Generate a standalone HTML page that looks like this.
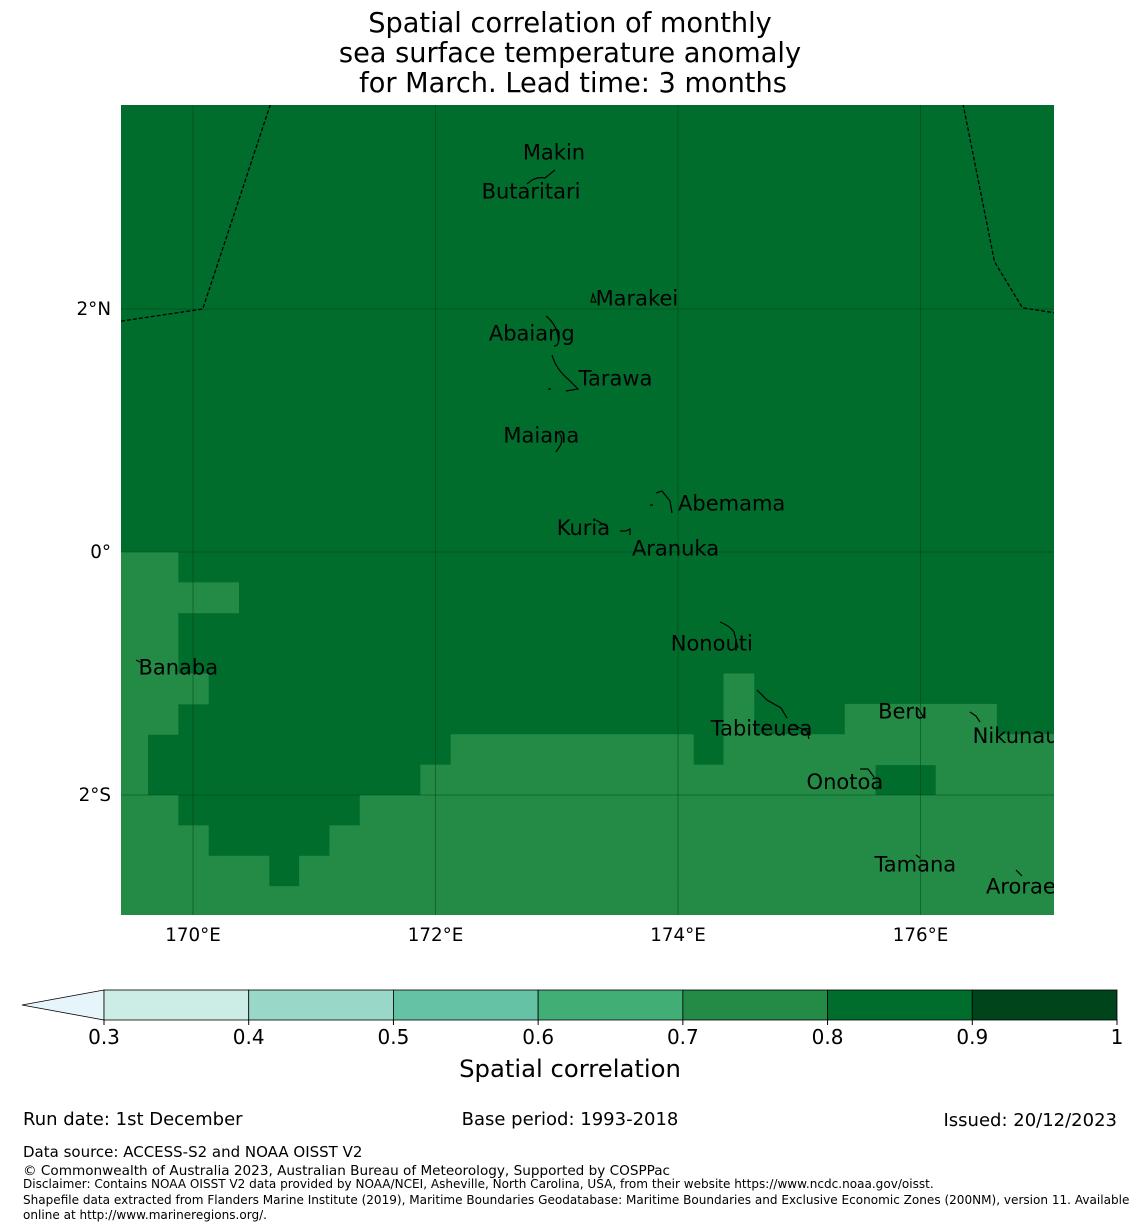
<!DOCTYPE html>
<html><head><meta charset="utf-8"><style>
body{margin:0;background:#fff;}
svg{display:block;font-family:"DejaVu Sans","Liberation Sans",sans-serif;}
</style></head><body>
<svg id="chart" width="1140" height="1230" viewBox="0 0 1140 1230" xmlns="http://www.w3.org/2000/svg">
<g font-size="27.2" text-anchor="middle" fill="#000">
<text x="570" y="32">Spatial correlation of monthly</text>
<text x="570" y="62">sea surface temperature anomaly</text>
<text x="573" y="92">for March. Lead time: 3 months</text>
</g>
<defs><clipPath id="mapclip"><rect x="121" y="105" width="933" height="810"/></clipPath></defs>
<g id="map" clip-path="url(#mapclip)"></g>
<g id="axes" font-size="18.3" fill="#000"></g>
<g id="cbar"></g>
<text x="570" y="1077" font-size="24.3" text-anchor="middle">Spatial correlation</text>
<g font-size="18" fill="#000">
<text x="23" y="1125">Run date: 1st December</text>
<text x="570" y="1125" text-anchor="middle">Base period: 1993-2018</text>
<text x="1117" y="1126" text-anchor="end">Issued: 20/12/2023</text>
<text x="23" y="1157" font-size="15">Data source: ACCESS-S2 and NOAA OISST V2</text>
<text x="23" y="1175" font-size="13.6">© Commonwealth of Australia 2023, Australian Bureau of Meteorology, Supported by COSPPac</text>
<text x="23" y="1188" font-size="12.05">Disclaimer: Contains NOAA OISST V2 data provided by NOAA/NCEI, Asheville, North Carolina, USA, from their website https://www.ncdc.noaa.gov/oisst.</text>
<text x="23" y="1204" font-size="12.05">Shapefile data extracted from Flanders Marine Institute (2019), Maritime Boundaries Geodatabase: Maritime Boundaries and Exclusive Economic Zones (200NM), version 11. Available</text>
<text x="23" y="1219" font-size="12.05">online at http://www.marineregions.org/.</text>
</g>
</svg>
<script>
// colorbar data
const levels=[0.3,0.4,0.5,0.6,0.7,0.8,0.9,1];
const levelColors=["#ccece6","#99d8c9","#66c2a4","#41ae76","#238b45","#006d2c","#00441b"];
const tickLabels=["0.3","0.4","0.5","0.6","0.7","0.8","0.9","1"];
// background correlation class for whole domain
const baseValue=0.85;
// cells with correlation 0.7-0.8: [lonWest, lonEast, latNorth, latSouth]
const cellLonW=[169.375,169.375,169.375,169.375,174.375,169.375,174.375,175.375,169.375,172.125,174.375,169.375,171.875,176.125,169.375,171.375,169.375,171.125,169.375,170.875,169.375];
const cellLonE=[169.875,170.375,169.875,170.125,174.625,169.875,174.625,176.625,169.625,174.125,177.2,169.625,175.625,177.2,169.875,177.2,170.125,177.2,170.625,177.2,177.2];
const cellLatN=[0,-0.25,-0.5,-1.0,-1.0,-1.25,-1.25,-1.25,-1.5,-1.5,-1.5,-1.75,-1.75,-1.75,-2.0,-2.0,-2.25,-2.25,-2.5,-2.5,-2.75];
const cellLatS=[-0.25,-0.5,-1.0,-1.25,-1.25,-1.5,-1.5,-1.5,-1.75,-1.75,-1.75,-2.0,-2.0,-2.0,-2.25,-2.25,-2.5,-2.5,-2.75,-2.75,-3.0];
const cellValue=0.75;
// islands
const islandNames=["Makin","Butaritari","Marakei","Abaiang","Tarawa","Maiana","Abemama","Kuria","Aranuka","Nonouti","Banaba","Tabiteuea","Beru","Nikunau","Onotoa","Tamana","Arorae"];
const islandLon=[172.72,172.38,173.32,172.44,173.18,172.56,174.0,173.0,173.62,173.94,169.55,174.27,175.65,176.43,175.06,175.62,176.54];
const islandLat=[3.23,2.91,2.03,1.74,1.37,0.9,0.34,0.14,-0.03,-0.81,-1.01,-1.51,-1.37,-1.57,-1.95,-2.63,-2.81];
const lonTicks=[170,172,174,176];
const latTicks=[2,0,-2];
const latTickLabels=["2°N","0°","2°S"];
// EEZ boundary vertices
const eezWLon=[169.406,170.08,170.64];
const eezWLat=[1.90,2.0,3.69];
const eezELon=[176.35,176.61,176.84,177.1];
const eezELat=[3.69,2.39,2.01,1.97];

const NS="http://www.w3.org/2000/svg";
const X=lon=>121+(lon-169.406)*121.25;
const Y=lat=>552-lat*121.5;
function colorFor(v){for(let i=0;i<levelColors.length;i++){if(v>=levels[i]&&v<levels[i+1])return levelColors[i];}return levelColors[levelColors.length-1];}
function mk(tag,attrs,parent){const e=document.createElementNS(NS,tag);for(const k in attrs)e.setAttribute(k,attrs[k]);parent.appendChild(e);return e;}

const map=document.getElementById('map');
const bg=mk('rect',{x:121,y:105,width:933,height:810,fill:colorFor(baseValue)},map);


for(let i=0;i<cellLonW.length;i++){
 const r=mk('rect',{x:X(cellLonW[i]),y:Y(cellLatN[i]),width:X(cellLonE[i])-X(cellLonW[i])+0.5,height:Y(cellLatS[i])-Y(cellLatN[i])+0.5,fill:colorFor(cellValue)},map);
 
 
}
lonTicks.forEach(l=>{const g=mk('line',{x1:X(l),x2:X(l),y1:105,y2:915,stroke:"#003d18","stroke-width":0.8,"stroke-opacity":0.6},map);
 
 });
latTicks.forEach(l=>{const g=mk('line',{x1:121,x2:1054,y1:Y(l),y2:Y(l),stroke:"#003d18","stroke-width":0.8,"stroke-opacity":0.6},map);
 
 });
const pw=eezWLon.map((l,i)=>X(l)+","+Y(eezWLat[i])).join(" ");
const e1=mk('polyline',{points:pw,fill:"none",stroke:"#000","stroke-width":1.3,"stroke-dasharray":"4,2"},map);


const pe=eezELon.map((l,i)=>X(l)+","+Y(eezELat[i])).join(" ");
const e2=mk('polyline',{points:pe,fill:"none",stroke:"#000","stroke-width":1.3,"stroke-dasharray":"4,2"},map);


const outlines=["M527,184 q8,-8 18,-6 l10,-8","M591,302 l2,-8 l3,8 z","M546,316 q10,8 12,20 q2,10 -4,10","M552,355 q4,14 16,24 l10,10 l-12,2 M548,389 l3,0","M558,432 q6,6 2,14 l-4,6","M656,493 l6,-2 l8,10 l2,12 M650,505 l3,0","M596,520 l10,6 M620,531 l6,0 l4,-2 l0,6","M720,622 q10,4 14,10 l4,16","M757,690 l10,10 l14,8 l6,10 M793,725 l14,6 l2,8","M918,708 l6,10","M970,712 l6,4 l4,6","M860,769 l8,0 l6,8","M916,855 l4,3","M1016,870 l6,6","M136,660 l4,2"];
outlines.forEach(d=>{const p=mk('path',{d:d,fill:"none",stroke:"#000","stroke-width":1.2},map);
 
 });
islandNames.forEach((n,i)=>{const t=mk('text',{x:X(islandLon[i]),y:Y(islandLat[i]),"font-size":21,fill:"#000"},map);t.textContent=n;
 
 });
const axes=document.getElementById('axes');
lonTicks.forEach(l=>{const t=mk('text',{x:X(l),y:941,"text-anchor":"middle"},axes);t.textContent=l+"°E";
 
 });
latTicks.forEach((l,i)=>{const t=mk('text',{x:111,y:Y(l)+6,"text-anchor":"end"},axes);t.textContent=latTickLabels[i];
 
 });
const cb=document.getElementById('cbar');
const cx=v=>104+(v-0.3)/0.7*1013;
const tri=mk('polygon',{points:"104,990 22,1005 104,1020",fill:"#e5f5f9",stroke:"#000","stroke-width":0.8},cb);


for(let i=0;i<levelColors.length;i++){const r=mk('rect',{x:cx(levels[i]),y:990,width:cx(levels[i+1])-cx(levels[i]),height:30,fill:levelColors[i],stroke:"#000","stroke-width":0.8},cb);
 
 }
levels.forEach((v,i)=>{mk('line',{x1:cx(v),x2:cx(v),y1:1020,y2:1025,stroke:"#000"},cb);
 const t=mk('text',{x:cx(v),y:1044,"font-size":20,"text-anchor":"middle"},cb);t.textContent=tickLabels[i];
 
 });
</script>
</body></html>
